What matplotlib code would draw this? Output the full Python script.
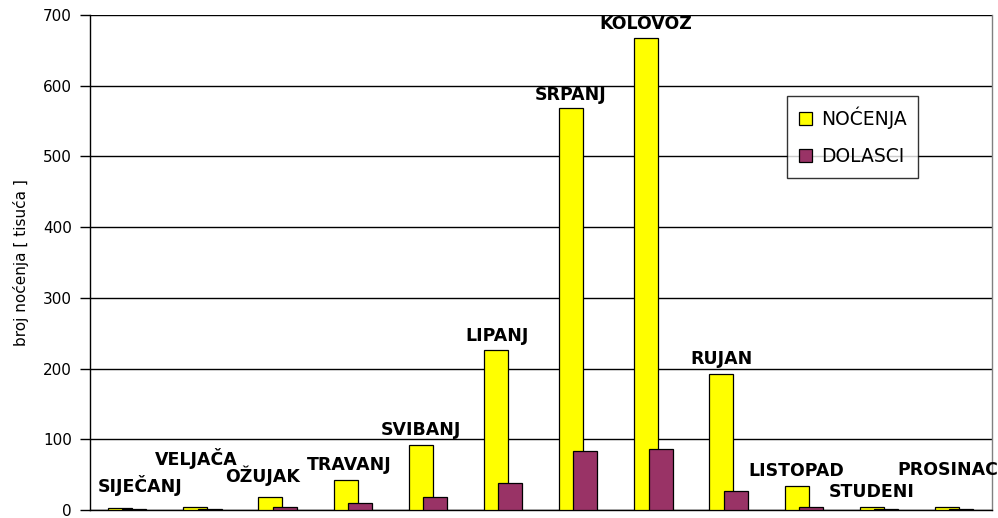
import numpy as np
import matplotlib.pyplot as plt

months = ["SIJEČANJ", "VELJAČA", "OŽUJAK", "TRAVANJ", "SVIBANJ", "LIPANJ",
          "SRPANJ", "KOLOVOZ", "RUJAN", "LISTOPAD", "STUDENI", "PROSINAC"]
nocenja = [3, 4, 18, 42, 92, 227, 569, 667, 193, 34, 4, 4]
dolasci = [1, 1, 4, 10, 18, 38, 84, 87, 27, 4, 1, 1]
y_ticks = [0, 100, 200, 300, 400, 500, 600, 700]

# label placement tweaks (x offset in categories, y gap in data units)
label_dx = [0.165, -0.09, -0.2, -0.05, -0.1, -0.09, -0.1, -0.1, -0.1, -0.1, -0.1, -0.09]
label_dy = [31, 69, 30, 21, 21, 19, 18, 20, 20, 21, 21, 52]

YELLOW = "#FFFF00"
PURPLE = "#993366"

plt.rcParams['font.family'] = ['DejaVu Sans']

fig = plt.figure(figsize=(9.98, 5.18), dpi=100)
ax = fig.add_axes([0.0902, 0.0154, 0.9038, 0.9556])

x = np.arange(len(months))
w = 0.32
ax.bar(x - 0.1, nocenja, w, color=YELLOW, edgecolor="black", linewidth=0.9,
       label="NOĆENJA", zorder=3)
ax.bar(x + 0.09, dolasci, w, color=PURPLE, edgecolor="black", linewidth=0.9,
       label="DOLASCI", zorder=4)

for i, m in enumerate(months):
    ax.text(i + label_dx[i], nocenja[i] + label_dy[i], m, ha="center", va="center",
            fontsize=12.5, fontweight="bold", zorder=5)

ax.set_xlim(-0.5, len(months) - 0.5)
ax.set_ylim(0, 700)
ax.set_yticks(y_ticks)
ax.set_xticks([])
ax.tick_params(axis="y", direction="out", length=7, width=1, labelsize=11, pad=6)
ax.yaxis.grid(True, color="black", linewidth=1)
ax.set_axisbelow(True)

for s in ["left", "bottom"]:
    ax.spines[s].set_color("black")
    ax.spines[s].set_linewidth(1)
ax.spines["top"].set_visible(False)
ax.spines["right"].set_color("#808080")
ax.spines["right"].set_linewidth(1)

ax.set_ylabel("broj noćenja [ tisuća ]", fontsize=11, labelpad=10)

leg = ax.legend(loc="upper left", bbox_to_anchor=(0.773, 0.837), fontsize=13.5,
                frameon=True, fancybox=False, shadow=False, borderpad=0.6,
                labelspacing=0.95, handlelength=0.7, handleheight=0.7,
                handletextpad=0.5, borderaxespad=0)
leg.get_frame().set_edgecolor("black")
leg.get_frame().set_linewidth(1)

fig.savefig("out.png", dpi=100)
